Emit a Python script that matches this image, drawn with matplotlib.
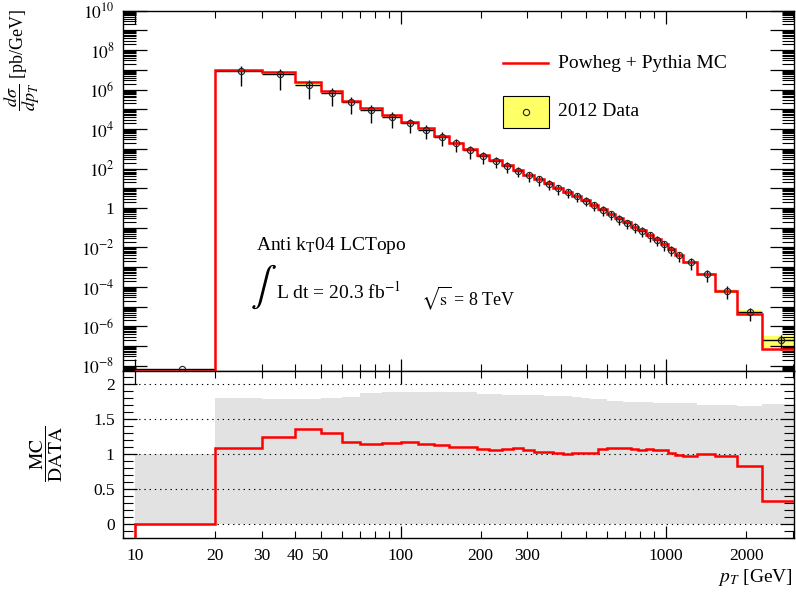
import numpy as np
import matplotlib
matplotlib.use("Agg")
import matplotlib.pyplot as plt
from matplotlib.ticker import FixedLocator, FuncFormatter, NullFormatter, MultipleLocator
from matplotlib.lines import Line2D
from matplotlib.patches import Rectangle

plt.rcParams['font.family'] = ['Liberation Serif', 'DejaVu Serif']
plt.rcParams['mathtext.fontset'] = 'stix'

# jet pT bin edges [GeV]
edges = [10, 20, 30, 40, 50, 60, 70, 85, 100, 116, 134, 152, 172, 194, 216, 240, 264,
         290, 318, 346, 376, 408, 442, 478, 516, 556, 598, 642, 688, 736, 786, 838,
         894, 952, 1012, 1076, 1162, 1310, 1530, 1850, 2300, 3100]

# Powheg + Pythia MC cross section [pb/GeV]
mc_xsec = [5.6e-9, 9.8e6, 7.4e6, 2.3e6, 8.5e5, 2.8e5, 1.12e5, 4.9e4, 2.4e4, 1.1e4,
           4.7e3, 2.05e3, 940, 480, 270, 150, 87, 49, 29, 18, 10.4, 6.3, 4.0, 2.45,
           1.42, 0.89, 0.51, 0.31, 0.186, 0.115, 0.076, 0.044, 0.027, 0.0155, 0.0081,
           0.0040, 0.00178, 4.3e-4, 6.5e-5, 4.4e-6, 7.1e-8]

# 2012 data cross section [pb/GeV]
data_xsec = [6.8e-9, 8.9e6, 5.9e6, 1.7e6, 6.5e5, 2.4e5, 9.8e4, 4.2e4, 2.0e4, 9.5e3,
             4.2e3, 1.9e3, 850, 450, 250, 140, 79, 46, 28, 17, 10, 6.3, 3.9, 2.4,
             1.4, 0.83, 0.47, 0.28, 0.17, 0.11, 0.071, 0.041, 0.025, 0.0145, 0.0079,
             0.0040, 0.0018, 4.3e-4, 6.6e-5, 5.2e-6, 2.1e-7]

# relative uncertainties on data (error bars, yellow band)
data_err = [0, 0.82, 0.84, 0.80, 0.78, 0.76, 0.78, 0.73, 0.70, 0.68, 0.66, 0.64, 0.62,
            0.60, 0.58, 0.56, 0.55, 0.54, 0.53, 0.52, 0.52, 0.51, 0.51, 0.50, 0.50,
            0.50, 0.50, 0.50, 0.50, 0.50, 0.51, 0.52, 0.53, 0.54, 0.55, 0.56, 0.58,
            0.60, 0.62, 0.65, 0.70]
data_syst = [0, 0.08, 0.08, 0.08, 0.08, 0.08, 0.08, 0.08, 0.07, 0.07, 0.07, 0.07, 0.07,
             0.07, 0.07, 0.07, 0.07, 0.07, 0.07, 0.07, 0.07, 0.07, 0.07, 0.07, 0.08,
             0.08, 0.08, 0.08, 0.09, 0.09, 0.09, 0.10, 0.10, 0.11, 0.12, 0.13, 0.15,
             0.18, 0.22, 0.30, 0.60]

# MC / DATA ratio and upper edge of the grey uncertainty band
ratio = [0, 1.086, 1.252, 1.357, 1.31, 1.18, 1.148, 1.167, 1.176, 1.148, 1.133, 1.105,
         1.105, 1.071, 1.062, 1.081, 1.095, 1.062, 1.038, 1.038, 1.014, 1.0, 1.014,
         1.014, 1.014, 1.076, 1.095, 1.095, 1.095, 1.076, 1.062, 1.081, 1.062, 1.062,
         1.014, 0.995, 0.981, 1.0, 0.971, 0.833, 0.338]
band_up = [1.0, 1.80, 1.79, 1.79, 1.80, 1.82, 1.87, 1.89, 1.89, 1.89, 1.89, 1.89, 1.89,
           1.86, 1.86, 1.85, 1.85, 1.85, 1.85, 1.84, 1.84, 1.83, 1.82, 1.80, 1.79,
           1.79, 1.76, 1.76, 1.75, 1.75, 1.75, 1.75, 1.74, 1.74, 1.74, 1.73, 1.73,
           1.71, 1.70, 1.69, 1.72]

x_major = [10, 100, 1000]
x_minor = [20, 30, 40, 50, 60, 70, 80, 90, 200, 300, 400, 500, 600, 700, 800, 900, 2000, 3000]
x_minor_labels = [20, 30, 40, 50, 200, 300, 2000]

e = np.array(edges, dtype=float)
width = np.diff(e)
centers = 0.5 * (e[:-1] + e[1:])
data = np.array(data_xsec)
err = np.array(data_err)
syst = np.array(data_syst)

W, H = 796, 594
fig = plt.figure(figsize=(7.96, 5.94), dpi=100)
ax = fig.add_axes([0.1545, 0.3754, 0.843, 0.6066])
axr = fig.add_axes([0.1545, 0.0938, 0.843, 0.2816])

# ---- top panel ----
ax.bar(e[1:-1], 2 * syst[1:] * data[1:], bottom=data[1:] * (1 - syst[1:]),
       width=width[1:], align='edge', color='#ffff66', lw=0, zorder=1)
ax.errorbar(centers, data, yerr=data * err, xerr=width / 2, fmt='none',
            ecolor='black', elinewidth=1.0, capsize=0, zorder=2)
ax.stairs(mc_xsec, e, baseline=1e-12, color='#ff0000', lw=1.8, zorder=3)
ax.plot(centers, data, 'o', mfc='none', mec='#222222', ms=4.5, mew=0.8, zorder=4)

ax.set_xscale('log')
ax.set_yscale('log')
ax.set_xlim(9, 3030)
ax.set_ylim(5.5e-9, 1e10)

ax.yaxis.set_major_locator(FixedLocator([10.0 ** k for k in range(-9, 11)]))
ax.yaxis.set_minor_locator(FixedLocator([m * 10.0 ** k for k in range(-9, 10) for m in range(2, 10)]))


def ylab(v, pos):
    k = int(round(np.log10(v)))
    if k % 2:
        return ''
    if k == 0:
        return '1'
    return r'$10^{%d}$' % k


ax.yaxis.set_major_formatter(FuncFormatter(ylab))
ax.yaxis.set_minor_formatter(NullFormatter())
ax.xaxis.set_major_locator(FixedLocator(x_major))
ax.xaxis.set_minor_locator(FixedLocator(x_minor))
ax.xaxis.set_major_formatter(NullFormatter())
ax.xaxis.set_minor_formatter(NullFormatter())
ax.tick_params(which='both', direction='in', top=True, right=True, labelsize=12.5, pad=6)
ax.tick_params(axis='y', which='major', length=17, width=0.9)
ax.tick_params(axis='y', which='minor', length=9, width=0.8)
ax.tick_params(axis='x', which='major', length=9, width=0.9)
ax.tick_params(axis='x', which='minor', length=5, width=0.8)

# legend, drawn by hand in figure pixels
tf = fig.transFigure
fig.add_artist(Line2D([502.7 / W, 548 / W], [1 - 63.3 / H, 1 - 63.3 / H],
                      color='#ff0000', lw=1.8, transform=tf))
fig.text(558 / W, 1 - 63.3 / H, 'Powheg + Pythia MC', fontsize=14, va='center')
fig.add_artist(Rectangle((502.7 / W, 1 - 128.3 / H), 46.6 / W, 32.6 / H,
                         facecolor='#ffff66', edgecolor='black', lw=0.8, transform=tf))
fig.add_artist(Line2D([526 / W], [1 - 112 / H], marker='o', ls='', mfc='none',
                      mec='#222222', ms=4.5, mew=0.8, transform=tf))
fig.text(558 / W, 1 - 112 / H, '2012 Data', fontsize=14, va='center')

fig.text(256 / W, 1 - 245 / H, r'Anti k$_{\mathrm{T}}$04 LCTopo', fontsize=14, va='center')
fig.text(250 / W, 1 - 287 / H, r'$\int$', fontsize=28, va='center')
fig.text(276 / W, 1 - 292 / H, r'L dt = 20.3 fb$^{-1}$', fontsize=14, va='center')
fig.text(421 / W, 1 - 298 / H, r'$\sqrt{\mathrm{s}}$ = 8 TeV', fontsize=13, va='center')

fig.text(22 / W, 1 - 9 / H, r'$\dfrac{d\sigma}{dp_{T}}$ [pb/GeV]', rotation=90,
         ha='center', va='top', fontsize=13)

# ---- ratio panel ----
axr.bar(e[:-1], band_up, width=width, align='edge', color='#e2e2e2', lw=0, zorder=1)
axr.stairs(ratio, e, baseline=-1, color='#ff0000', lw=1.8, zorder=3)
axr.set_xscale('log')
axr.set_xlim(9, 3030)
axr.set_ylim(-0.2, 2.19)
axr.set_axisbelow(False)
axr.yaxis.set_major_locator(FixedLocator([0, 0.5, 1, 1.5, 2]))
axr.yaxis.set_minor_locator(MultipleLocator(0.1))
axr.yaxis.set_major_formatter(FuncFormatter(lambda v, p: '%g' % v))
axr.yaxis.grid(True, which='major', color='black', lw=0.8, ls=(0, (1.2, 3.5)), zorder=2)
axr.xaxis.set_major_locator(FixedLocator(x_major))
axr.xaxis.set_minor_locator(FixedLocator(x_minor))
axr.xaxis.set_major_formatter(FuncFormatter(lambda v, p: '%d' % v))
axr.xaxis.set_minor_formatter(FuncFormatter(lambda v, p: '%d' % v if int(round(v)) in x_minor_labels else ''))
axr.tick_params(which='both', direction='in', top=True, right=True, labelsize=12.5, pad=6)
axr.tick_params(axis='x', which='both', pad=7)
axr.tick_params(axis='y', which='major', length=10, width=0.9)
axr.tick_params(axis='y', which='minor', length=7, width=0.8)
axr.tick_params(axis='x', which='major', length=9, width=0.9)
axr.tick_params(axis='x', which='minor', length=5, width=0.8)

fig.text(47 / W, 1 - 454 / H, r'$\dfrac{\mathrm{MC}}{\mathrm{DATA}}$', rotation=90,
         ha='center', va='center', fontsize=14)
fig.text(793 / W, 1 - 578 / H, r'$p_{T}$ [GeV]', ha='right', va='center', fontsize=14)

for a in (ax, axr):
    for s in a.spines.values():
        s.set_linewidth(1.0)

fig.savefig('out.png', dpi=100)
